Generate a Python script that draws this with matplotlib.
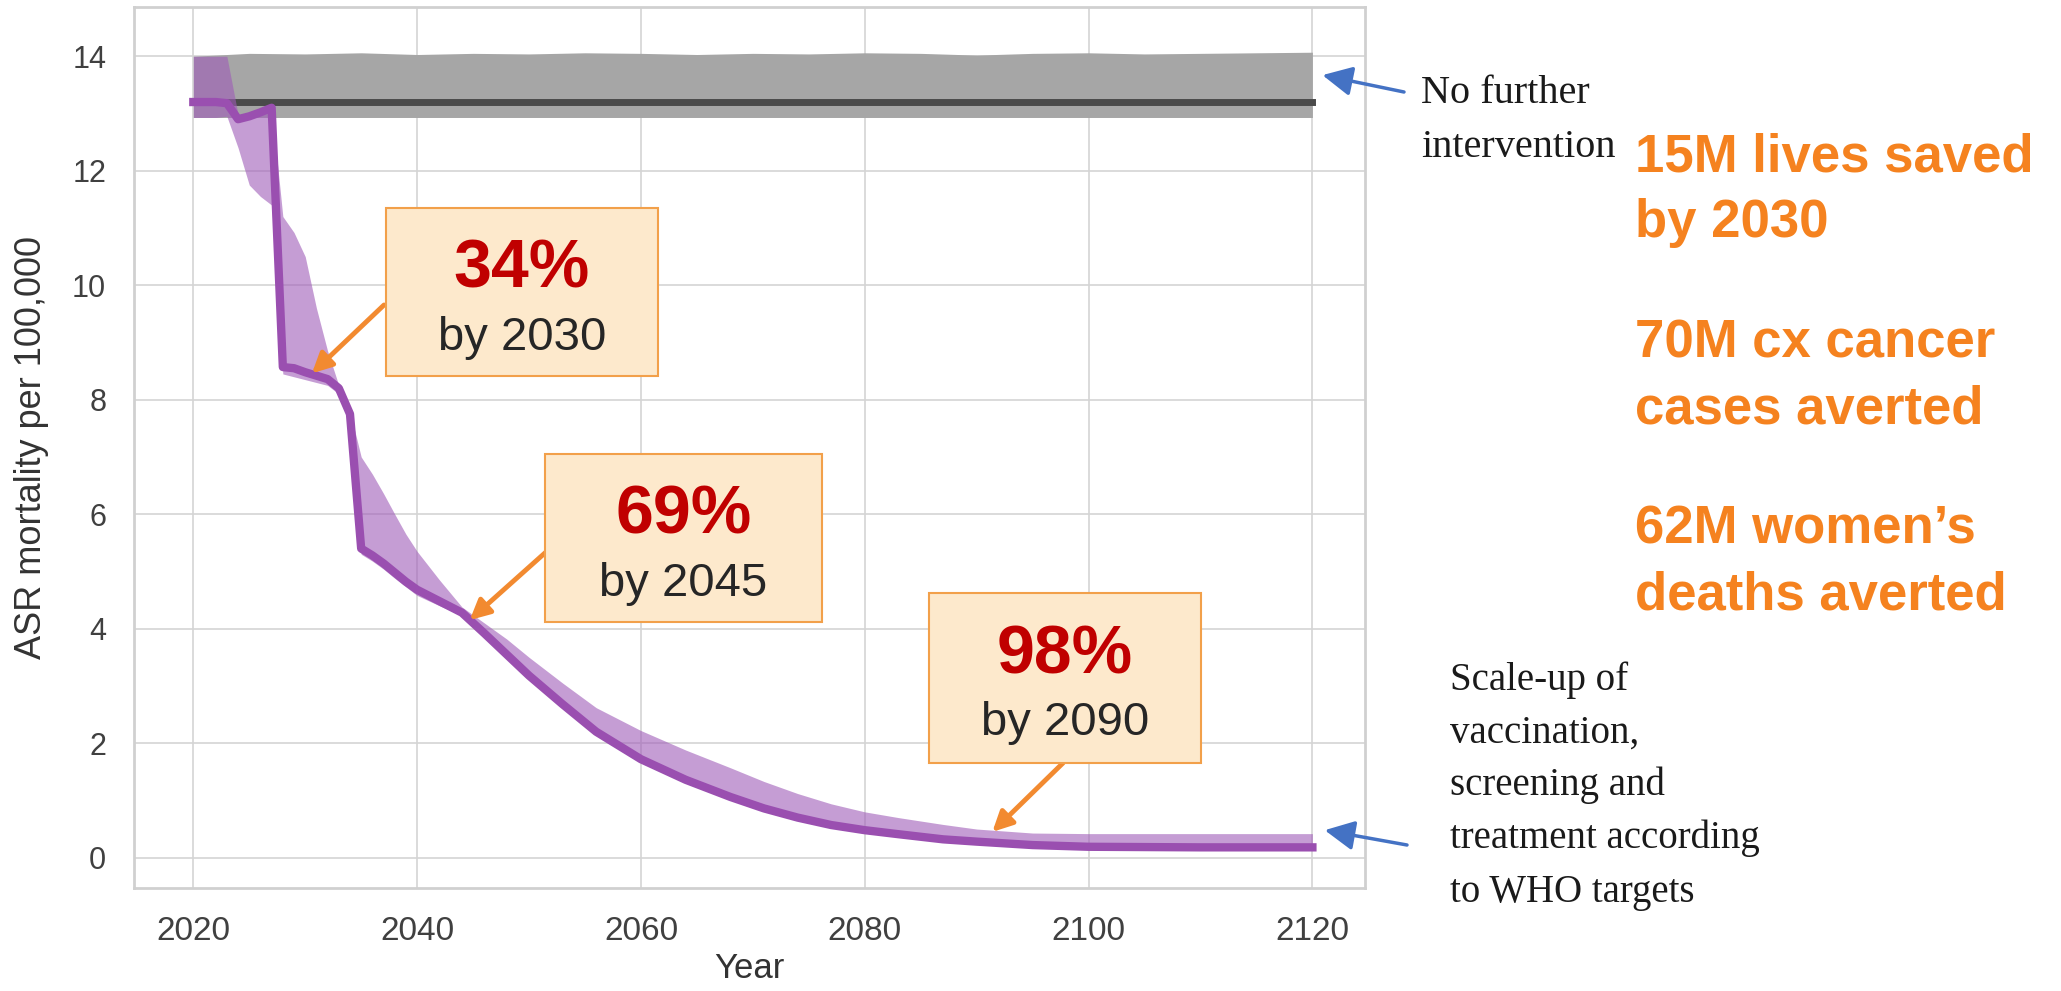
import matplotlib
matplotlib.use('Agg')
import matplotlib.pyplot as plt
from matplotlib.patches import Rectangle

plt.rcParams['font.family'] = 'Liberation Sans'

# scale-up of vaccination, screening and treatment (purple)
years = [2020, 2021, 2022, 2023, 2024, 2025, 2026, 2027, 2028, 2029, 2030,
         2031, 2032, 2033, 2034, 2035, 2036, 2037, 2038, 2039, 2040, 2042,
         2044, 2046, 2048, 2050, 2053, 2056, 2060, 2064, 2068, 2071, 2074,
         2077, 2080, 2083, 2087, 2090, 2095, 2100, 2110, 2120]
scaleup_mean = [13.2, 13.2, 13.2, 13.18, 12.9, 12.95, 13.02, 13.1, 8.57, 8.55, 8.48,
                8.42, 8.36, 8.2, 7.75, 5.4, 5.28, 5.14, 4.98, 4.82, 4.68, 4.48,
                4.28, 3.92, 3.55, 3.18, 2.68, 2.2, 1.72, 1.36, 1.06, 0.86, 0.7,
                0.57, 0.48, 0.41, 0.32, 0.28, 0.22, 0.19, 0.18, 0.18]
scaleup_low = [12.93, 12.93, 12.93, 12.95, 12.4, 11.75, 11.55, 11.4, 8.45, 8.4, 8.35,
               8.3, 8.25, 8.1, 7.7, 5.3, 5.18, 5.04, 4.88, 4.73, 4.58, 4.4,
               4.23, 3.88, 3.51, 3.14, 2.64, 2.16, 1.68, 1.32, 1.02, 0.82, 0.66,
               0.53, 0.44, 0.37, 0.28, 0.24, 0.18, 0.15, 0.14, 0.14]
scaleup_high = [14.0, 14.0, 14.0, 14.0, 12.98, 13.0, 13.05, 13.12, 11.2, 10.92, 10.5,
                9.6, 8.85, 8.25, 7.8, 7.0, 6.7, 6.36, 6.0, 5.65, 5.35, 4.85,
                4.38, 4.1, 3.82, 3.5, 3.05, 2.62, 2.22, 1.88, 1.57, 1.33, 1.12,
                0.94, 0.8, 0.7, 0.58, 0.5, 0.43, 0.42, 0.42, 0.42]

# no further intervention (grey)
status_years = [2020, 2025, 2030, 2035, 2040, 2045, 2050, 2055, 2060, 2065, 2070,
                2075, 2080, 2085, 2090, 2095, 2100, 2105, 2110, 2115, 2120]
status_mean = [13.2, 13.2, 13.2, 13.2, 13.2, 13.2, 13.2, 13.2, 13.2, 13.2, 13.2,
               13.2, 13.2, 13.2, 13.2, 13.2, 13.2, 13.2, 13.2, 13.2, 13.2]
status_low = [12.93, 12.93, 12.93, 12.93, 12.93, 12.93, 12.93, 12.93, 12.93, 12.93, 12.93,
              12.93, 12.93, 12.93, 12.93, 12.93, 12.93, 12.93, 12.93, 12.93, 12.93]
status_high = [14.0, 14.05, 14.04, 14.06, 14.03, 14.05, 14.04, 14.06, 14.05, 14.03, 14.05,
               14.04, 14.06, 14.05, 14.02, 14.05, 14.06, 14.04, 14.05, 14.06, 14.07]

# reduction call-outs
reductions = ['34%', '69%', '98%']
by_years = ['by 2030', 'by 2045', 'by 2090']
target_years = [2030.6, 2044.7, 2091.4]
target_values = [8.46, 4.15, 0.45]

no_further_lines = ['No further', 'intervention']
scaleup_lines = ['Scale-up of', 'vaccination,', 'screening and',
                 'treatment according', 'to WHO targets']
impact_lines = ['15M lives saved', 'by 2030', '70M cx cancer', 'cases averted',
                '62M women\u2019s', 'deaths averted']

W, H = 2061, 991


def fx(px):
    return px / W


def fy(py):
    return 1 - py / H


fig = plt.figure(figsize=(W / 100, H / 100), dpi=100)
ax = fig.add_axes([fx(134), fy(888), (1365 - 134) / W, (888 - 7) / H])

ax.fill_between(status_years, status_low, status_high, color='#a6a6a6', lw=0, zorder=2)
ax.plot(status_years, status_mean, color='#4a4a4a', lw=5, zorder=3)
ax.fill_between(years, scaleup_low, scaleup_high, color='#9f5cb8', alpha=0.6, lw=0, zorder=4)
ax.plot(years, scaleup_mean, color='#9a4fb0', lw=6, zorder=5, solid_joinstyle='round')

ax.set_xlim(2014.7, 2124.7)
ax.set_ylim(-0.53, 14.86)
ax.set_xticks(range(2020, 2121, 20))
ax.set_yticks(range(0, 15, 2))
ax.grid(True, color='#d4d4d4', lw=1.2)
ax.set_axisbelow(True)
for s in ax.spines.values():
    s.set_color('#d0d0d0')
    s.set_linewidth(2)
ax.tick_params(length=0, colors='#404040')
ax.tick_params(axis='x', labelsize=24, pad=20)
ax.tick_params(axis='y', labelsize=22, pad=20)

ax.set_ylabel('ASR mortality per 100,000', fontsize=26, color='#333333')
ax.yaxis.set_label_coords((32 - 134) / 1231, 0.5)
ax.yaxis.label.set_verticalalignment('center')
ax.set_xlabel('Year', fontsize=25, color='#333333')
ax.xaxis.set_label_coords(0.5, (888 - 968) / 881)
ax.xaxis.label.set_verticalalignment('center')

# call-out boxes with orange arrows
boxes = [(386, 208, 658, 376), (545, 454, 822, 622), (929, 593, 1201, 763)]
tails = [(384, 305), (546, 552), (1063, 763)]
orange = '#f28a30'
for (l, t, r, b), pct, by, (tx, ty), yr, val in zip(boxes, reductions, by_years, tails,
                                                    target_years, target_values):
    fig.add_artist(Rectangle((fx(l), fy(b)), (r - l) / W, (b - t) / H,
                             transform=fig.transFigure, facecolor='#fde9cc',
                             edgecolor='#f2a04a', lw=1.5, zorder=10))
    cx = (l + r) / 2
    fig.text(fx(cx), fy(t + 80), pct, ha='center', va='baseline', fontsize=49,
             fontweight='bold', color='#c00000', zorder=11)
    fig.text(fx(cx), fy(t + 142), by, ha='center', va='baseline', fontsize=34,
             color='#262626', zorder=11)
    ax.annotate('', xy=(yr, val), xycoords='data', xytext=(tx, H - ty),
                textcoords='figure pixels', annotation_clip=False, zorder=12,
                arrowprops=dict(arrowstyle='-|>', color=orange, lw=3.5,
                                mutation_scale=30, shrinkA=0, shrinkB=0))

# blue arrows to the scenario labels
blue = '#4472c4'
ax.annotate('', xy=(2120.9, 13.67), xycoords='data', xytext=(1404, H - 92),
            textcoords='figure pixels', annotation_clip=False,
            arrowprops=dict(arrowstyle='-|>', color=blue, lw=2.5,
                            mutation_scale=45, shrinkA=0, shrinkB=0))
ax.annotate('', xy=(2121.1, 0.48), xycoords='data', xytext=(1407, H - 845),
            textcoords='figure pixels', annotation_clip=False,
            arrowprops=dict(arrowstyle='-|>', color=blue, lw=2.5,
                            mutation_scale=45, shrinkA=0, shrinkB=0))

for line, base in zip(no_further_lines, [103, 157]):
    fig.text(fx(1421), fy(base), line, ha='left', va='baseline', fontsize=29,
             family='Liberation Serif', color='#1a1a1a')
for line, base in zip(scaleup_lines, [690, 743, 795, 848, 902]):
    fig.text(fx(1450), fy(base), line, ha='left', va='baseline', fontsize=28,
             family='Liberation Serif', color='#1a1a1a')
for line, base in zip(impact_lines, [172, 237, 357, 423, 543, 610]):
    fig.text(fx(1635), fy(base), line, ha='left', va='baseline', fontsize=38,
             fontweight='bold', color='#f5821f')

fig.savefig('out.png', dpi=100, facecolor='white')
plt.close(fig)
